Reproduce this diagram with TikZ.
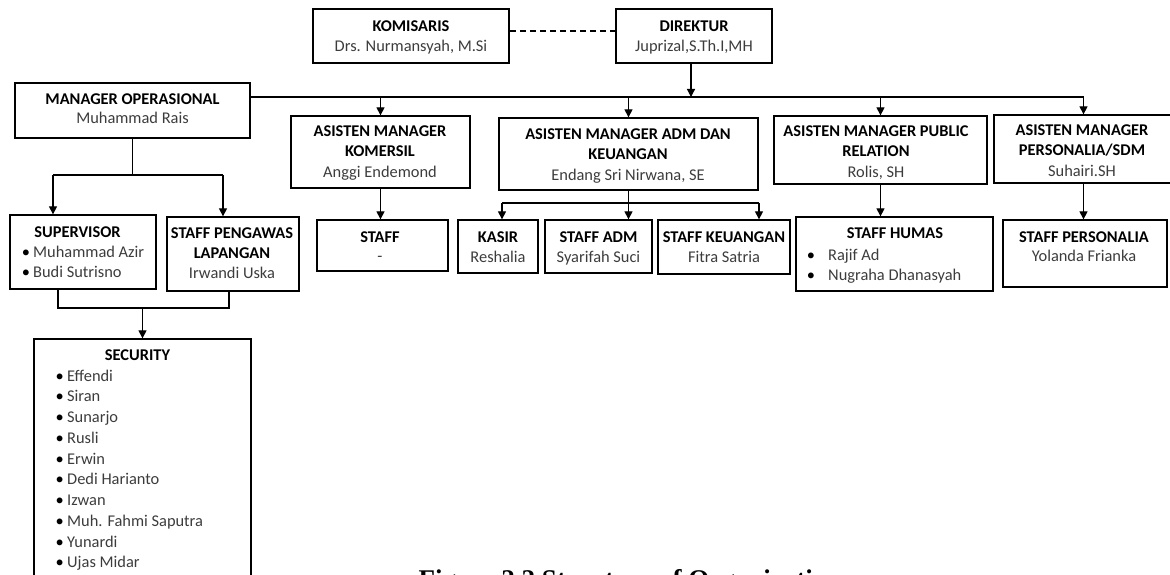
\documentclass[tikz,border=0pt]{standalone}
\usepackage{fontspec}
\setmainfont{Carlito}
\newfontfamily\capfont{Liberation Serif}
\usetikzlibrary{arrows.meta,fit}
\definecolor{namegray}{RGB}{60,60,60}
\begin{document}
\begin{tikzpicture}[x=1pt,y=-1pt,
  box/.style={draw, line width=1.3pt, inner sep=0pt},
  bigbox/.style={draw, line width=2.8pt, inner sep=0pt},
  hd/.style={anchor=base, inner sep=0pt, font=\fontsize{16.4}{20}\selectfont\bfseries},
  nm/.style={anchor=base, inner sep=0pt, text=namegray, font=\fontsize{16.4}{20}\selectfont},
  li/.style={anchor=base west, inner sep=0pt, text=namegray, font=\fontsize{16.4}{20}\selectfont},
  bul/.style={anchor=base, inner sep=0pt, font=\fontsize{16.4}{20}\selectfont},
  ln/.style={line width=1.2pt},
  arr/.style={ln, -{Triangle[length=8pt,width=8pt]}},
]
\useasboundingbox (0,0) rectangle (1170,575);

% ---------- boxes ----------
\node[bigbox, fit={(313,9)(509,63)}] (kom) {};
\node[bigbox, fit={(616,9)(772,63)}] (dir) {};
\node[box, fit={(15,83)(250,138)}] (mo) {};
\node[box, fit={(291,116)(470,188)}] (akom) {};
\node[box, fit={(499,118)(758,190)}] (adm) {};
\node[box, fit={(774,116)(987,184)}] (apr) {};
\node[box, fit={(994,115)(1173,183)}] (apers) {};
\node[box, fit={(317,220)(448,271)}] (staff) {};
\node[box, fit={(458,220)(538,273)}] (kasir) {};
\node[box, fit={(545,220)(652,273)}] (sadm) {};
\node[box, fit={(658,220)(790,274)}] (skeu) {};
\node[box, fit={(796,217)(993,291)}] (humas) {};
\node[box, fit={(1003,220)(1167,287)}] (spers) {};
\node[box, fit={(10,215)(156,289)}] (sup) {};
\node[box, fit={(167,217)(299,291)}] (spl) {};
\node[box, fit={(34,339)(251,600)}] (sec) {};

% ---------- texts ----------
\node[hd] (tkom) at (411,31.7) {KOMISARIS};
\node[nm] (nkom) at (411,51.7) {Drs. Nurmansyah, M.Si};
\node[hd] (tdir) at (694,31.7) {DIREKTUR};
\node[nm] (ndir) at (694,52) {Juprizal,S.Th.I,MH};
\node[hd] (tmo) at (132.5,105) {MANAGER OPERASIONAL};
\node[nm] (nmo) at (132.5,124) {Muhammad Rais};
\node[hd] (takom1) at (380,137) {ASISTEN MANAGER};
\node[hd] (takom2) at (380,157) {KOMERSIL};
\node[nm] (nakom) at (380,177) {Anggi Endemond};
\node[hd] (tadm1) at (628,140) {ASISTEN MANAGER ADM DAN};
\node[hd] (tadm2) at (628,160) {KEUANGAN};
\node[nm] (nadm) at (628,180) {Endang Sri Nirwana, SE};
\node[hd] (tapr1) at (876,137) {ASISTEN MANAGER PUBLIC};
\node[hd] (tapr2) at (876,157) {RELATION};
\node[nm] (napr) at (876,177) {Rolis, SH};
\node[hd] (taper1) at (1082,136) {ASISTEN MANAGER};
\node[hd] (taper2) at (1082,156) {PERSONALIA/SDM};
\node[nm] (naper) at (1082,176) {Suhairi.SH};
\node[hd] (tstaff) at (380,242) {STAFF};
\node[nm] (nstaff) at (380,261) {-};
\node[hd] (tkasir) at (498,242) {KASIR};
\node[nm] (nkasir) at (498,262) {Reshalia};
\node[hd] (tsadm) at (598.5,242) {STAFF ADM};
\node[nm] (nsadm) at (598.5,262) {Syarifah Suci};
\node[hd] (tskeu) at (724,242) {STAFF KEUANGAN};
\node[nm] (nskeu) at (724,262) {Fitra Satria};
\node[hd] (thumas) at (895,238) {STAFF HUMAS};
\node[bul] (bh1) at (811,260) {•};
\node[li] (nh1) at (828,260) {Rajif Ad};
\node[bul] (bh2) at (811,280) {•};
\node[li] (nh2) at (828,280) {Nugraha Dhanasyah};
\node[hd] (tspers) at (1084,242) {STAFF PERSONALIA};
\node[nm] (nspers) at (1084,261) {Yolanda Frianka};
\node[hd] (tsup) at (77.5,237) {SUPERVISOR};
\node[bul] (bs1) at (26,257) {•};
\node[li] (ns1) at (33,257) {Muhammad Azir};
\node[bul] (bs2) at (26,277) {•};
\node[li] (ns2) at (33,277) {Budi Sutrisno};
\node[hd] (tspl1) at (232,238) {STAFF PENGAWAS};
\node[hd] (tspl2) at (232,258) {LAPANGAN};
\node[nm] (nspl) at (232,278) {Irwandi Uska};
\node[hd] (tsec) at (137.5,360) {SECURITY};
\foreach \n [count=\i from 0] in {Effendi,Siran,Sunarjo,Rusli,Erwin,Dedi Harianto,Izwan,Muh. Fahmi Saputra,Yunardi,Ujas Midar}{
  \node[bul] (bsec\i) at (59.7,{381+20.75*\i}) {•};
  \node[li] (nsec\i) at (67,{381+20.75*\i}) {\n};
}
\node[anchor=base, inner sep=0pt, font=\capfont\bfseries\fontsize{27}{30}\selectfont] (cap) at (630,588) {Figure 2.2 Structure of Organization};

% ---------- connectors ----------
\coordinate (dy) at (0,31);
\draw[ln, dash pattern=on 6pt off 4pt] (kom.east |- dy) -- (dir.west |- dy);
\coordinate (busL) at (250,97);
\coordinate (dirx) at (691,63);
\draw[ln] (busL) -- (apers.north |- busL);
\draw[arr] (dirx) -- (dirx |- busL);
\draw[arr] (akom.north |- busL) -- (akom.north);
\draw[arr] (adm.north |- busL) -- (adm.north);
\draw[arr] (apr.north |- busL) -- (apr.north);
\draw[arr] (apers.north |- busL) -- (apers.north);

\draw[arr] (akom.south) -- (akom.south |- staff.north);
\draw[arr] (apr.south) -- (apr.south |- humas.north);
\draw[arr] (apers.south) -- (apers.south |- spers.north);

\coordinate (aA) at (502,203);
\coordinate (aB) at (759,203);
\draw[ln] (aA) -- (aB);
\draw[arr] (adm.south) -- (adm.south |- sadm.north);
\draw[arr] (aA) -- (aA |- kasir.north);
\draw[arr] (aB) -- (aB |- skeu.north);

\coordinate (fA) at (53,175);
\coordinate (fB) at (223,175);
\draw[ln] (mo.south) -- (mo.south |- fA);
\draw[ln] (fA) -- (fB);
\draw[arr] (fA) -- (fA |- sup.north);
\draw[arr] (fB) -- (fB |- spl.north);

\coordinate (jA) at (58,308);
\coordinate (jB) at (229,308);
\draw[ln] (jA |- sup.south) -- (jA) -- (jB) -- (jB |- spl.south);
\draw[arr] (sec.north |- jA) -- (sec.north);
\end{tikzpicture}
\end{document}
